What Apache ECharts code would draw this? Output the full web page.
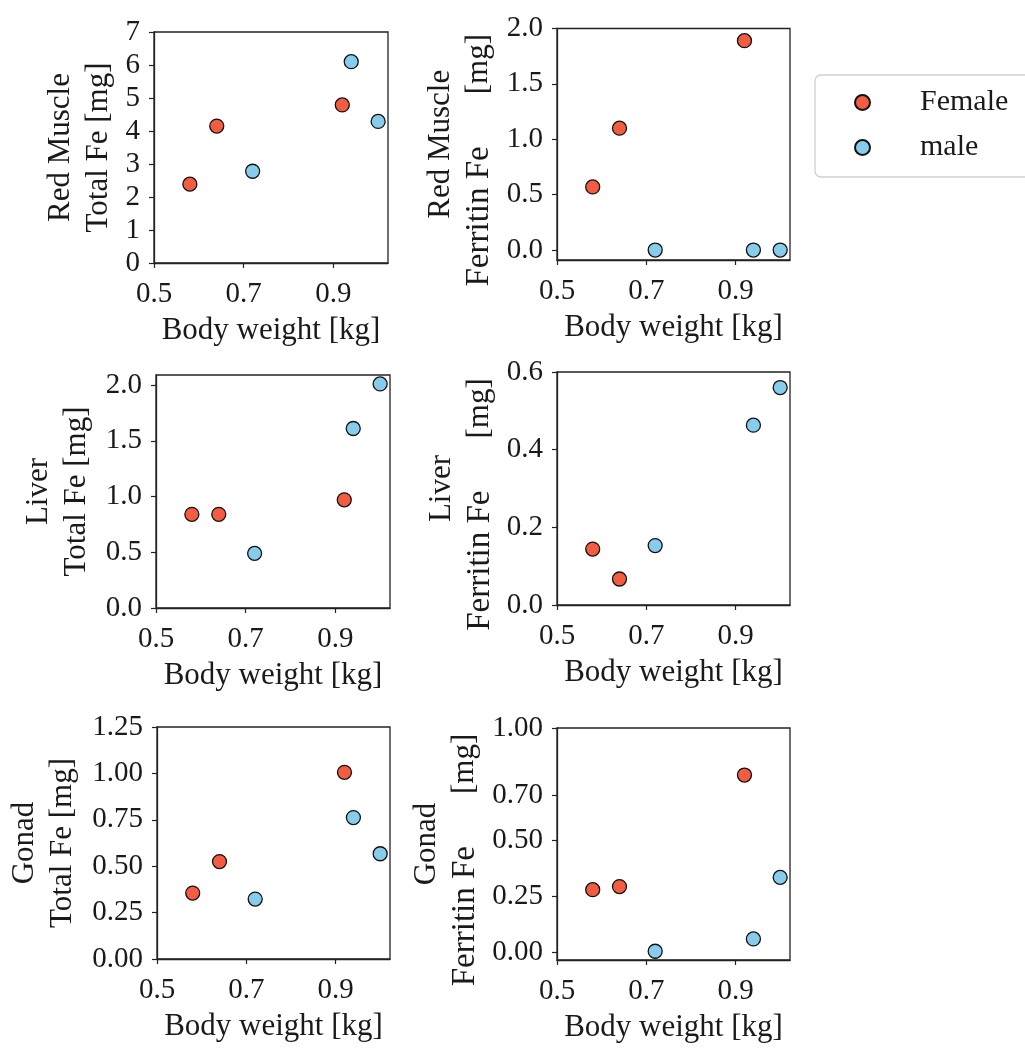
<!DOCTYPE html>
<html><head><meta charset="utf-8">
<script src="https://cdn.jsdelivr.net/npm/echarts@6/dist/echarts.min.js"></script>
<style>html,body{margin:0;padding:0;background:#fff}#c{width:1025px;height:1050px}</style>
</head><body><div id="c"></div>
<script>
// ---- data ----
const seriesNames = ['Female', 'male'];
const weightFemale = [0.58, 0.64, 0.92];
const weightMale = [0.72, 0.94, 1.00];
const xTicks = [0.5, 0.7, 0.9];

const redMuscleTotalFemale = [2.39, 4.15, 4.79];
const redMuscleTotalMale = [2.78, 6.10, 4.29];
const redMuscleFerritinFemale = [0.57, 1.10, 1.89];
const redMuscleFerritinMale = [0.0, 0.0, 0.0];
const liverTotalFemale = [0.84, 0.84, 0.97];
const liverTotalMale = [0.49, 1.61, 2.01];
const liverFerritinFemale = [0.144, 0.067, null];
const liverFerritinMale = [0.153, 0.463, 0.56];
const gonadTotalFemale = [0.355, 0.525, 1.006];
const gonadTotalMale = [0.323, 0.762, 0.567];
const gonadFerritinFemale = [0.278, 0.292, 0.79];
const gonadFerritinMale = [0.003, 0.058, 0.333];

const ticksRedMuscleTotal = [0, 1, 2, 3, 4, 5, 6, 7];
const ticksRedMuscleFerritin = [0, 0.5, 1.0, 1.5, 2.0];
const ticksLiverTotal = [0, 0.5, 1.0, 1.5, 2.0];
const ticksLiverFerritin = [0, 0.2, 0.4, 0.6];
const ticksGonadTotal = [0, 0.25, 0.5, 0.75, 1.0, 1.25];
const ticksGonadFerritin = [0, 0.25, 0.5, 0.7, 1.0];

// ---- layout ----
const FONT = 'Liberation Serif';
const ferritinLine = '{b|Ferritin Fe}{s| }{a|[mg]}{t| }';
const panels = [
  {box:{left:154,top:32,width:234,height:231}, f:redMuscleTotalFemale, m:redMuscleTotalMale, ticks:ticksRedMuscleTotal, dec:0, min:0, max:7,
   name:'{a|Red Muscle}\n{a|Total Fe [mg]}', gap:36},
  {box:{left:557,top:28,width:233,height:232}, f:redMuscleFerritinFemale, m:redMuscleFerritinMale, ticks:ticksRedMuscleFerritin, dec:1, min:-0.09, max:2.0,
   name:'{a|Red Muscle}\n' + ferritinLine, gap:59},
  {box:{left:156,top:375,width:234,height:233}, f:liverTotalFemale, m:liverTotalMale, ticks:ticksLiverTotal, dec:1, min:0, max:2.09,
   name:'{a|Liver}\n{a|Total Fe [mg]}', gap:60},
  {box:{left:557,top:372,width:233,height:233}, f:liverFerritinFemale, m:liverFerritinMale, ticks:ticksLiverFerritin, dec:1, min:0, max:0.6,
   name:'{a|Liver}\n' + ferritinLine, gap:58},
  {box:{left:157,top:727,width:233,height:232}, f:gonadTotalFemale, m:gonadTotalMale, ticks:ticksGonadTotal, dec:2, min:0, max:1.25,
   name:'{a|Gonad}\n{a|Total Fe [mg]}', gap:75},
  {box:{left:557,top:728,width:233,height:232}, f:gonadFerritinFemale, m:gonadFerritinMale, ticks:ticksGonadFerritin, dec:2, min:-0.036, max:1.0,
   name:'{a|Gonad}\n' + ferritinLine, gap:73}
];

const lineCol = '#222';
const textCol = '#1a1a1a';
const femaleColor = '#f25c40';
const maleColor = '#87cdeb';

const grid = [], xAxis = [], yAxis = [], series = [];
panels.forEach((p, i) => {
  grid.push(Object.assign({show:true, borderColor:lineCol, borderWidth:1.3, backgroundColor:'transparent'}, p.box));
  xAxis.push({
    type:'value', gridIndex:i, min:0.5, max:1.022,
    name:'Body weight [kg]', nameLocation:'middle', nameGap:52,
    nameTextStyle:{fontFamily:FONT, fontSize:31, color:textCol},
    axisLine:{show:true, onZero:false, lineStyle:{color:lineCol, width:1.3}},
    axisTick:{show:true, length:5, customValues:xTicks, lineStyle:{color:lineCol, width:1.2}},
    axisLabel:{customValues:xTicks, margin:17, fontFamily:FONT, fontSize:29, color:textCol, formatter:v=>v.toFixed(1)},
    splitLine:{show:false}
  });
  yAxis.push({
    type:'value', gridIndex:i, min:p.min, max:p.max,
    name:p.name, nameLocation:'middle', nameRotate:90, nameGap:p.gap,
    nameTextStyle:{rich:{
      a:{fontFamily:FONT, fontSize:31, color:textCol, lineHeight:38},
      b:{fontFamily:FONT, fontSize:33, color:textCol, lineHeight:38},
      s:{fontFamily:FONT, fontSize:31, width:52, lineHeight:38},
      t:{fontFamily:FONT, fontSize:31, width:32, lineHeight:38}
    }},
    axisLine:{show:true, onZero:false, lineStyle:{color:lineCol, width:1.3}},
    axisTick:{show:true, length:5, customValues:p.ticks, lineStyle:{color:lineCol, width:1.2}},
    axisLabel:{customValues:p.ticks, margin:14, fontFamily:FONT, fontSize:29, color:textCol, formatter:v=>v.toFixed(p.dec)},
    splitLine:{show:false}
  });
  const mk = (name, xs, ys, color) => ({
    type:'scatter', name, xAxisIndex:i, yAxisIndex:i, clip:false, symbol:'circle', symbolSize:14,
    itemStyle:{color, borderColor:'#111', borderWidth:1.3, opacity:1},
    emphasis:{disabled:true},
    data: xs.map((x, k) => ys[k] == null ? null : [x, ys[k]]).filter(d => d)
  });
  series.push(mk(seriesNames[0], weightFemale, p.f, femaleColor));
  series.push(mk(seriesNames[1], weightMale, p.m, maleColor));
});

const chart = echarts.init(document.getElementById('c'), null, {renderer:'canvas'});
chart.setOption({
  animation:false,
  backgroundColor:'#fff',
  grid, xAxis, yAxis, series,
  legend:{
    data:seriesNames, orient:'vertical', left:815, top:75,
    padding:[12, 120, 14, 39], itemGap:14,
    itemWidth:15, itemHeight:15, icon:'circle',
    borderColor:'#d0d0d0', borderWidth:1.3, borderRadius:6, backgroundColor:'#fff',
    textStyle:{fontFamily:FONT, fontSize:30, color:textCol, padding:[0,0,0,45], lineHeight:31}
  }
});
</script>
</body></html>
